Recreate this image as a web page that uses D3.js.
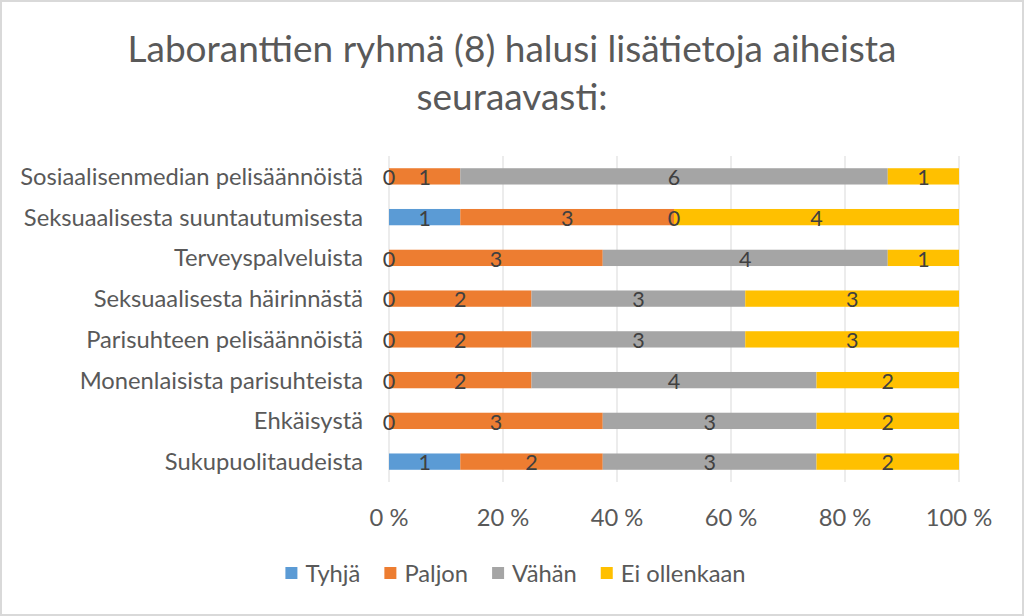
<!DOCTYPE html>
<html><head><meta charset="utf-8">
<script src="https://cdn.jsdelivr.net/npm/d3@7"></script>
<style>html,body{margin:0;padding:0;background:#fff;}svg{display:block;}</style>
</head><body>
<svg id="chart" width="1024" height="616"></svg>
<script>
const titleLines = ["Laboranttien ryhmä (8) halusi lisätietoja aiheista", "seuraavasti:"];
const categories = ["Sosiaalisenmedian pelisäännöistä","Seksuaalisesta suuntautumisesta","Terveyspalveluista","Seksuaalisesta häirinnästä","Parisuhteen pelisäännöistä","Monenlaisista parisuhteista","Ehkäisystä","Sukupuolitaudeista"];
const seriesNames = ["Tyhjä","Paljon","Vähän","Ei ollenkaan"];
const tyhja =   [0,1,0,0,0,0,0,1];
const paljon =  [1,3,3,2,2,2,3,2];
const vahan =   [6,0,4,3,3,4,3,3];
const eiOllenkaan = [1,4,1,3,3,2,2,2];
const colors = ["#5B9BD5","#ED7D31","#A5A5A5","#FFC000"];
const tickValues = [0,0.2,0.4,0.6,0.8,1];
const tickLabels = ["0 %","20 %","40 %","60 %","80 %","100 %"];

const seriesValues = [tyhja,paljon,vahan,eiOllenkaan];
const FONT = "Lato, 'Open Sans', sans-serif";
const TXT = "#595959";
const svg = d3.select("#chart");

svg.append("rect").attr("x",1).attr("y",1).attr("width",1022).attr("height",614)
  .attr("fill","#fff").attr("stroke","#d9d9d9").attr("stroke-width",2);

const x = d3.scaleLinear().domain([0,1]).range([389,959]);
const y = d3.scaleBand().domain(categories).range([156,482]).paddingInner(0.6).paddingOuter(0.3);

// title
const tl = svg.append("g").attr("font-family",FONT).attr("fill",TXT).attr("text-anchor","middle");
const t1 = tl.append("text").attr("x",512).attr("y",62).attr("font-size",32).text(titleLines[0]);
let w1 = t1.node().getComputedTextLength();
const tsize = 32*769/w1;
t1.attr("font-size",tsize);
tl.append("text").attr("x",512).attr("y",110).attr("font-size",tsize).text(titleLines[1]);

// grid
svg.append("g").selectAll("line").data(tickValues).join("line")
  .attr("x1",d=>x(d)).attr("x2",d=>x(d)).attr("y1",156).attr("y2",482)
  .attr("stroke","#d9d9d9").attr("stroke-width",1);

// stack
const rows = categories.map((c,i)=>{
  const o={cat:c}; seriesNames.forEach((s,j)=>o[s]=seriesValues[j][i]); return o;});
const stack = d3.stack().keys(seriesNames).offset(d3.stackOffsetExpand);
const stacked = stack(rows);

const g = svg.append("g");
stacked.forEach((layer,j)=>{
  g.append("g").attr("fill",colors[j]).selectAll("rect").data(layer).join("rect")
    .attr("x",d=>x(d[0])).attr("width",d=>x(d[1])-x(d[0]))
    .attr("y",d=>y(d.data.cat)).attr("height",y.bandwidth());
});
// data labels
const lg = svg.append("g").attr("font-family",FONT).attr("font-size",21.5).attr("fill","#404040").attr("text-anchor","middle");
stacked.forEach((layer,j)=>{
  lg.selectAll(null).data(layer).join("text")
    .attr("x",d=>x((d[0]+d[1])/2)).attr("y",d=>y(d.data.cat)+y.bandwidth()/2+1)
    .attr("dy","0.36em").text(d=>d.data[layer.key]);
});

// category axis labels
const ca = svg.append("g").attr("font-family",FONT).attr("fill",TXT).attr("text-anchor","end");
const cl = ca.selectAll("text").data(categories).join("text")
  .attr("x",363).attr("y",d=>y(d)+y.bandwidth()/2).attr("dy","0.36em").attr("font-size",20).text(d=>d);
const maxW = d3.max(cl.nodes(),n=>n.getComputedTextLength());
const csize = 20*343/maxW;
cl.attr("font-size",csize);

// x axis tick labels
svg.append("g").attr("font-family",FONT).attr("fill",TXT).attr("text-anchor","middle")
  .selectAll("text").data(tickValues).join("text")
  .attr("x",d=>x(d)).attr("y",517).attr("dy","0.36em").attr("font-size",csize).text((d,i)=>tickLabels[i]);

// legend
const leg = svg.append("g").attr("font-family",FONT).attr("fill",TXT);
let cx = 0;
seriesNames.forEach((s,j)=>{
  const it = leg.append("g");
  it.append("rect").attr("x",cx).attr("y",567).attr("width",12).attr("height",12).attr("fill",colors[j]);
  const t = it.append("text").attr("x",cx+20).attr("y",573).attr("dy","0.36em").attr("font-size",csize).text(s);
  cx += 20 + t.node().getComputedTextLength() + 24;
});
const totalW = cx - 24;
leg.attr("transform",`translate(${515.5-totalW/2},0)`);
</script>
</body></html>
